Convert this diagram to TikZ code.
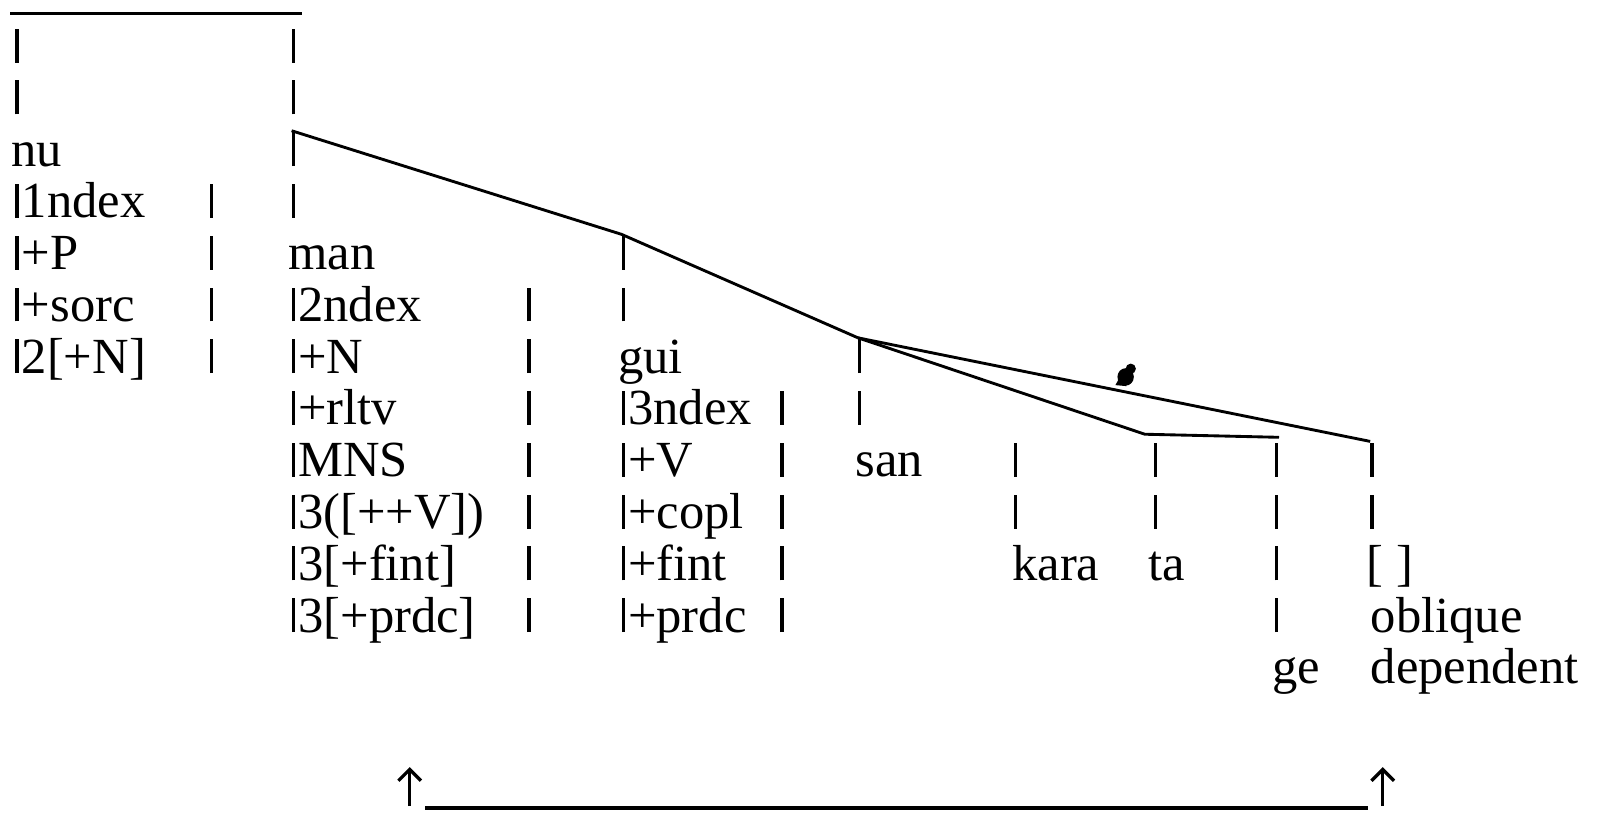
\documentclass[tikz,border=0pt]{standalone}
\usepackage{fontspec}
\setmainfont{Liberation Serif}
\usetikzlibrary{arrows.meta,calc}
% a short bar of cap height, as in the typed chart
\newcommand{\vl}{\hspace{0.07em}\rule{0.065em}{0.67em}\hspace{0.065em}}
\begin{document}
\begin{tikzpicture}[x=0.5pt, y=-0.5pt, line width=1.4pt,
    >={Straight Barb[length=5.5pt,width=11pt]},
    txt/.style={anchor=base west, inner sep=0pt, font=\fontsize{24.7}{25}\selectfont}]
  \useasboundingbox (0,0) rectangle (1568,793);

  % 1. bar columns (name/x/rows)
  \foreach \c/\x/\rs in {A/10/{1,2}, B/200/{4,5,6,7}, C/280/{1,2,3,4}, D/510/{6,7,8,9,10,11,12},
      E/602/{5,6}, F/757/{8,9,10,11,12}, G/833/{7,8}, H/985/{9,10}, I/1122/{9,10},
      J/1240/{9,10,11,12}, K/1333/{9,10}}
    \foreach \r in \rs
      \node[txt] (b\c\r) at (\x,10.5+50.55*\r) {\vl};

  % 2. words
  \node[txt] (nu)  at (10,10.5+50.55*3)  {nu};
  \node[txt] (nu1) at (10,10.5+50.55*4)  {\vl 1ndex};
  \node[txt] (nu2) at (10,10.5+50.55*5)  {\vl +P};
  \node[txt] (nu3) at (10,10.5+50.55*6)  {\vl +sorc};
  \node[txt] (nu4) at (10,10.5+50.55*7)  {\vl 2[+N]};

  \node[txt] (man)  at (280,10.5+50.55*5)  {man};
  \node[txt] (man1) at (280,10.5+50.55*6)  {\vl 2ndex};
  \node[txt] (man2) at (280,10.5+50.55*7)  {\vl +N};
  \node[txt] (man3) at (280,10.5+50.55*8)  {\vl +rltv};
  \node[txt] (man4) at (280,10.5+50.55*9)  {\vl MNS};
  \node[txt] (man5) at (280,10.5+50.55*10) {\vl 3([++V])};
  \node[txt] (man6) at (280,10.5+50.55*11) {\vl 3[+fint]};
  \node[txt] (man7) at (280,10.5+50.55*12) {\vl 3[+prdc]};

  \node[txt] (gui)  at (602,10.5+50.55*7)  {gui};
  \node[txt] (gui1) at (602,10.5+50.55*8)  {\vl 3ndex};
  \node[txt] (gui2) at (602,10.5+50.55*9)  {\vl +V};
  \node[txt] (gui3) at (602,10.5+50.55*10) {\vl +copl};
  \node[txt] (gui4) at (602,10.5+50.55*11) {\vl +fint};
  \node[txt] (gui5) at (602,10.5+50.55*12) {\vl +prdc};

  \node[txt] (san)  at (834,10.5+50.55*9)  {san};
  \node[txt] (kara) at (987,10.5+50.55*11) {kara};
  \node[txt] (ta)   at (1120,10.5+50.55*11) {ta};
  \node[txt] (ge)   at (1241,10.5+50.55*13) {ge};
  \node[txt] (obl1) at (1333,10.5+50.55*11) {[ ]};
  \node[txt] (obl2) at (1337,10.5+50.55*12) {oblique};
  \node[txt] (obl3) at (1337,10.5+50.55*13) {dependent};

  % 3. tree lines
  \coordinate (topL) at (10,13);
  \coordinate (topR) at (295,13);
  \draw (topL) -- (topR);
  \draw (bC3.north) -- (bE5.north) -- (bG7.north);
  \draw (bG7.north) -- ($(bI9.north)+(-9,-7)$) -- ($(bJ9.north)+(4,-4)$);
  \draw (bG7.north) -- (bK9.north);
  % the blot on the long link
  \fill (1099,368) ellipse [x radius=8, y radius=8.5];
  \fill (1104,360) circle [radius=5];
  \fill (1089,376) -- (1094,367) -- (1100,377) -- cycle;

  % 4. arrows below
  \coordinate (arL) at (400,787);
  \coordinate (arLt) at (400,749);
  \coordinate (arR) at (1350,787);
  \coordinate (arRt) at (1350,749);
  \coordinate (lnL) at (415,789);
  \coordinate (lnR) at (1336,789);
  \draw[->, line width=1.6pt] (arL) -- (arLt);
  \draw[->, line width=1.6pt] (arR) -- (arRt);
  \draw[line width=1.6pt] (lnL) -- (lnR);
\end{tikzpicture}
\end{document}
